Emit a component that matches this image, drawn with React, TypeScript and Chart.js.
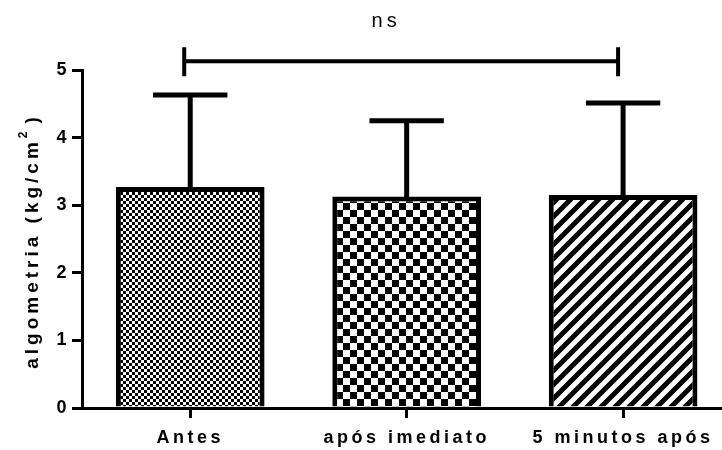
import React, { useEffect, useRef } from 'react';
import { Chart, registerables } from 'chart.js';

Chart.register(...registerables);

// ---- data ----
const categories = ['Antes', 'após imediato', '5 minutos após'];
const means = [3.27, 3.13, 3.15];
const sds = [1.36, 1.12, 1.36];
const yTickValues = [0, 1, 2, 3, 4, 5];
const bracketLevel = 5.13;
const bracketLabel = 'ns';
const yTitleMain = 'algometria (kg/cm';
const yTitleSup = '2';
const yTitleEnd = ')';

const FONT_FAMILY = "'Liberation Sans', Arial, sans-serif";
const SPACING = '3.5px';

function makeChecker(cell: number): CanvasPattern | string {
  const c = document.createElement('canvas');
  c.width = cell * 2; c.height = cell * 2;
  const ctx = c.getContext('2d');
  if (!ctx) return '#888';
  ctx.fillStyle = '#fff'; ctx.fillRect(0, 0, cell * 2, cell * 2);
  ctx.fillStyle = '#000';
  ctx.fillRect(0, 0, cell, cell); ctx.fillRect(cell, cell, cell, cell);
  return ctx.createPattern(c, 'repeat') || '#888';
}

function makeHatch(): CanvasPattern | string {
  const s = 14;
  const c = document.createElement('canvas');
  c.width = s; c.height = s;
  const ctx = c.getContext('2d');
  if (!ctx) return '#888';
  ctx.fillStyle = '#fff'; ctx.fillRect(0, 0, s, s);
  ctx.strokeStyle = '#000'; ctx.lineWidth = 5;
  ctx.beginPath();
  ctx.moveTo(-s, 2 * s); ctx.lineTo(2 * s, -s);
  ctx.moveTo(-s, s); ctx.lineTo(s, -s);
  ctx.moveTo(0, 2 * s); ctx.lineTo(2 * s, 0);
  ctx.stroke();
  return ctx.createPattern(c, 'repeat') || '#888';
}

const spacingPlugin = {
  id: 'letterSpacing',
  beforeUpdate(chart: any) { chart.ctx.letterSpacing = SPACING; },
  beforeDraw(chart: any) { chart.ctx.letterSpacing = SPACING; },
};

const annotationPlugin = {
  id: 'errorBarsAndBracket',
  afterDatasetsDraw(chart: any) {
    const ctx = chart.ctx as CanvasRenderingContext2D;
    const xs = chart.scales.x;
    const ys = chart.scales.y;
    const meta = chart.getDatasetMeta(0);
    ctx.save();
    ctx.strokeStyle = '#000';
    ctx.lineCap = 'butt';
    // error bars (upward)
    means.forEach((m, i) => {
      const el = meta.data[i];
      const cx = el.x;
      const base = ys.getPixelForValue(m);
      const top = ys.getPixelForValue(m + sds[i]);
      const half = el.width / 4;
      ctx.lineWidth = 5;
      ctx.beginPath();
      ctx.moveTo(cx, base + 2);
      ctx.lineTo(cx, top);
      ctx.stroke();
      ctx.beginPath();
      ctx.moveTo(cx - half, top);
      ctx.lineTo(cx + half, top);
      ctx.stroke();
    });
    // bracket
    const bx1 = xs.getPixelForValue(0) - 6;
    const bx2 = xs.getPixelForValue(categories.length - 1) - 5;
    const by = ys.getPixelForValue(bracketLevel);
    ctx.lineWidth = 4;
    ctx.beginPath();
    ctx.moveTo(bx1, by); ctx.lineTo(bx2, by);
    ctx.moveTo(bx1, by - 14); ctx.lineTo(bx1, by + 15);
    ctx.moveTo(bx2, by - 14); ctx.lineTo(bx2, by + 15);
    ctx.stroke();
    ctx.fillStyle = '#000';
    ctx.font = `20px ${FONT_FAMILY}`;
    (ctx as any).letterSpacing = '4px';
    ctx.textAlign = 'center';
    ctx.textBaseline = 'middle';
    ctx.fillText(bracketLabel, (bx1 + bx2) / 2 - 15, by - 40);
    ctx.restore();

    // y axis title
    const area = chart.chartArea;
    ctx.save();
    (ctx as any).letterSpacing = '4px';
    ctx.fillStyle = '#000';
    ctx.translate(33, (area.top + area.bottom) / 2 + 2);
    ctx.rotate(-Math.PI / 2);
    const mainFont = `bold 19px ${FONT_FAMILY}`;
    const supFont = `bold 12px ${FONT_FAMILY}`;
    ctx.font = mainFont;
    const w1 = ctx.measureText(yTitleMain).width;
    const w3 = ctx.measureText(yTitleEnd).width;
    ctx.font = supFont;
    const w2 = ctx.measureText(yTitleSup).width + 4;
    const start = -(w1 + w2 + w3) / 2;
    ctx.textAlign = 'left';
    ctx.textBaseline = 'middle';
    ctx.font = mainFont;
    ctx.fillText(yTitleMain, start, 0);
    ctx.font = supFont;
    ctx.fillText(yTitleSup, start + w1, -9);
    ctx.font = mainFont;
    ctx.fillText(yTitleEnd, start + w1 + w2, 0);
    ctx.restore();
  },
};

export default function App() {
  const ref = useRef<HTMLCanvasElement | null>(null);
  useEffect(() => {
    document.body.style.margin = '0';
    const canvas = ref.current;
    if (!canvas) return;
    const tickFont = { family: FONT_FAMILY, size: 18, weight: 'bold' as const };
    const chart = new Chart(canvas, {
      type: 'bar',
      data: {
        labels: categories,
        datasets: [
          {
            data: means,
            backgroundColor: [makeChecker(3), makeChecker(7), makeHatch()] as any,
            borderColor: '#000',
            borderWidth: 5,
            categoryPercentage: 1,
            barPercentage: 0.687,
          },
        ],
      },
      options: {
        responsive: false,
        animation: false,
        devicePixelRatio: 1,
        layout: { padding: { top: 70, left: 0, right: 0, bottom: 0 } },
        plugins: { legend: { display: false }, tooltip: { enabled: false }, title: { display: false } },
        scales: {
          x: {
            type: 'category',
            offset: true,
            grid: { display: true, drawOnChartArea: false, drawTicks: true, tickLength: 10, lineWidth: 3, color: '#000', offset: false },
            border: { display: true, color: '#000', width: 3 },
            ticks: { color: '#000', font: tickFont, padding: 9, maxRotation: 0, autoSkip: false },
            afterBuildTicks: (s: any) => { s._valueRange = 2.957; },
            afterFit: (s: any) => { s.height = 42; s.paddingLeft = 0; s.paddingRight = 0; },
          },
          y: {
            min: 0,
            max: 5,
            afterBuildTicks: (s: any) => { s.ticks = yTickValues.map((v) => ({ value: v })); },
            grid: { display: true, drawOnChartArea: false, drawTicks: true, tickLength: 10, lineWidth: 3, color: '#000' },
            border: { display: true, color: '#000', width: 3 },
            ticks: { color: '#000', font: tickFont, padding: 2, stepSize: 1 },
            afterFit: (s: any) => { s.width = 82; s.paddingTop = 0; s.paddingBottom = 0; },
          },
        },
      },
      plugins: [spacingPlugin, annotationPlugin],
    } as any);
    return () => chart.destroy();
  }, []);
  return (
    <div style={{ width: 722, height: 450 }}>
      <canvas ref={ref} width={722} height={450} style={{ display: 'block' }} />
    </div>
  );
}
